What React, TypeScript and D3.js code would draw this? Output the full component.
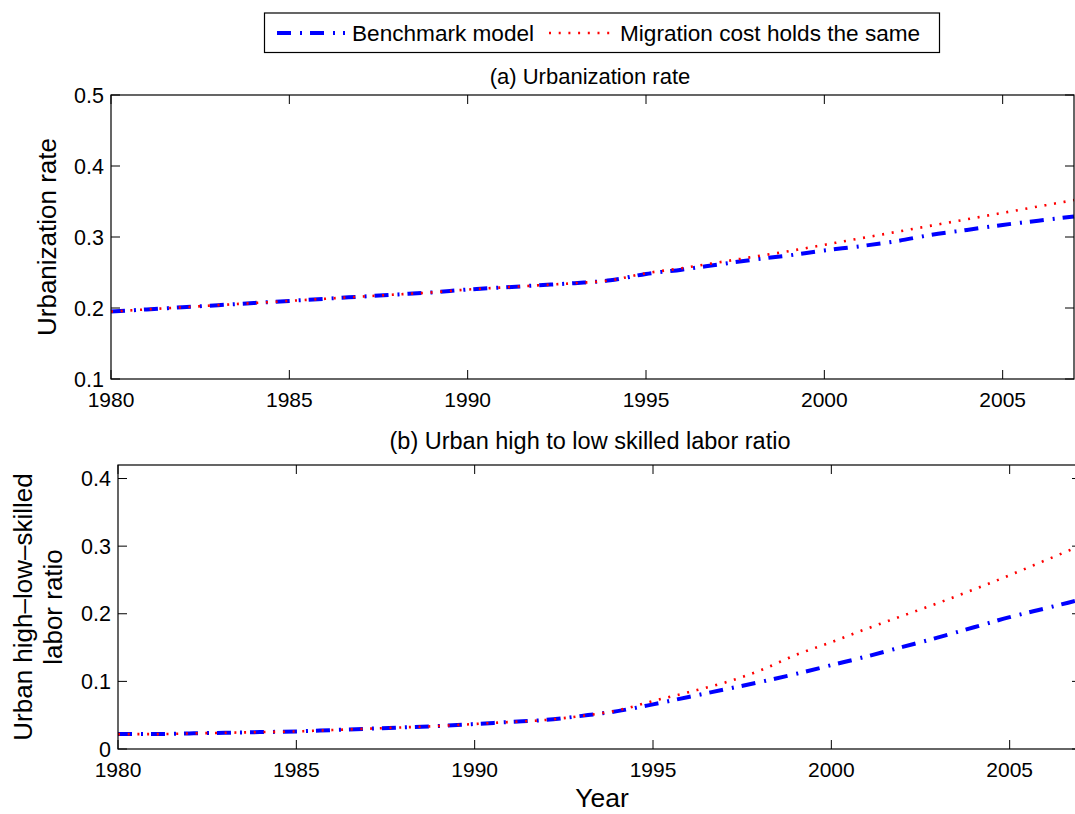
import React from "react";
import * as d3 from "d3";

// Simulation years and the two scenarios for each panel
const years = [
  1980, 1981, 1982, 1983, 1984, 1985, 1986, 1987, 1988, 1989,
  1990, 1991, 1992, 1993, 1994, 1995, 1996, 1997, 1998, 1999,
  2000, 2001, 2002, 2003, 2004, 2005, 2006, 2007,
];

const urbanBenchmark = [
  0.195, 0.198, 0.201, 0.204, 0.207, 0.21, 0.213, 0.216, 0.219, 0.222,
  0.226, 0.229, 0.232, 0.235, 0.239, 0.248, 0.254, 0.261, 0.268, 0.274,
  0.281, 0.287, 0.294, 0.303, 0.31, 0.317, 0.323, 0.329,
];
const urbanSameCost = [
  0.195, 0.198, 0.201, 0.204, 0.207, 0.21, 0.213, 0.216, 0.219, 0.222,
  0.226, 0.229, 0.232, 0.235, 0.239, 0.249, 0.256, 0.264, 0.272, 0.28,
  0.289, 0.298, 0.307, 0.316, 0.325, 0.334, 0.343, 0.352,
];

const ratioBenchmark = [
  0.022, 0.022, 0.023, 0.024, 0.025, 0.026, 0.028, 0.03, 0.032, 0.034,
  0.037, 0.04, 0.043, 0.049, 0.056, 0.066, 0.077, 0.088, 0.099, 0.111,
  0.124, 0.137, 0.151, 0.165, 0.18, 0.195, 0.208, 0.221,
];
const ratioSameCost = [
  0.022, 0.022, 0.023, 0.024, 0.025, 0.026, 0.028, 0.03, 0.032, 0.034,
  0.037, 0.04, 0.043, 0.049, 0.057, 0.071, 0.084, 0.098, 0.116, 0.139,
  0.158, 0.178, 0.197, 0.216, 0.236, 0.257, 0.279, 0.301,
];

const yearTicks = [1980, 1985, 1990, 1995, 2000, 2005];
const urbanTicks = [0.1, 0.2, 0.3, 0.4, 0.5];
const ratioTicks = [0, 0.1, 0.2, 0.3, 0.4];

const seriesNames = ["Benchmark model", "Migration cost holds the same"];

const FONT = "'Liberation Sans', Arial, Helvetica, sans-serif";
const BLUE = "#0000ff";
const RED = "#ff0000";
const BLUE_DASH = "14 9 2 8";
const RED_DASH = "2 7.7";
const TICK = 9;

type PanelProps = {
  left: number;
  right: number;
  top: number;
  bottom: number;
  yDomain: [number, number];
  yTicks: number[];
  benchmark: number[];
  sameCost: number[];
  title: string;
  titleY: number;
  titleSize: number;
  ylabel: string[];
  ylabelX: number;
};

function Panel(p: PanelProps) {
  const x = d3.scaleLinear().domain([1980, 2007]).range([p.left, p.right]);
  const y = d3.scaleLinear().domain(p.yDomain).range([p.bottom, p.top]);
  const line = (vals: number[]) =>
    d3
      .line<number>()
      .x((_, i) => x(years[i]))
      .y((v) => y(v))
      .curve(d3.curveMonotoneX)(vals) || "";
  const fmt = (v: number) => (v === 0 ? "0" : v.toFixed(1));
  const cy = (p.top + p.bottom) / 2;
  const lineGap = 30;
  const n = p.ylabel.length;

  return (
    <g>
      <path d={line(p.benchmark)} fill="none" stroke={BLUE} strokeWidth={4} strokeDasharray={BLUE_DASH} />
      <path d={line(p.sameCost)} fill="none" stroke={RED} strokeWidth={2.6} strokeDasharray={RED_DASH} />

      {/* frame */}
      <rect
        x={p.left}
        y={p.top}
        width={p.right - p.left}
        height={p.bottom - p.top}
        fill="none"
        stroke="#000"
        strokeWidth={1.2}
      />

      {/* x ticks on bottom and top edges */}
      {yearTicks.map((t) => (
        <g key={"x" + t}>
          <line x1={x(t)} x2={x(t)} y1={p.bottom} y2={p.bottom - TICK} stroke="#000" strokeWidth={1} />
          <line x1={x(t)} x2={x(t)} y1={p.top} y2={p.top + TICK} stroke="#000" strokeWidth={1} />
          <text
            x={x(t)}
            y={p.bottom + 28}
            textAnchor="middle"
            fontFamily={FONT}
            fontSize={21}
            fill="#000"
          >
            {t}
          </text>
        </g>
      ))}

      {/* y ticks on left and right edges */}
      {p.yTicks.map((t) => (
        <g key={"y" + t}>
          <line x1={p.left} x2={p.left + TICK} y1={y(t)} y2={y(t)} stroke="#000" strokeWidth={1} />
          <line x1={p.right} x2={p.right - TICK} y1={y(t)} y2={y(t)} stroke="#000" strokeWidth={1} />
          <text
            x={p.left - 7}
            y={y(t) + 7.5}
            textAnchor="end"
            fontFamily={FONT}
            fontSize={21.5}
            fill="#000"
          >
            {fmt(t)}
          </text>
        </g>
      ))}

      <text x={590} y={p.titleY} textAnchor="middle" fontFamily={FONT} fontSize={p.titleSize} fill="#000">
        {p.title}
      </text>

      {p.ylabel.map((s, i) => (
        <text
          key={s}
          transform={`translate(${p.ylabelX + (i - (n - 1) / 2) * lineGap + 9},${cy}) rotate(-90)`}
          textAnchor="middle"
          fontFamily={FONT}
          fontSize={26}
          fill="#000"
        >
          {s}
        </text>
      ))}
    </g>
  );
}

export default function App() {
  return (
    <svg
      width={1075}
      height={814}
      style={{ position: "absolute", left: 0, top: 0, background: "#fff" }}
    >
      <rect x={0} y={0} width={1075} height={814} fill="#fff" />

      <Panel
        left={111}
        right={1074}
        top={95}
        bottom={379}
        yDomain={[0.1, 0.5]}
        yTicks={urbanTicks}
        benchmark={urbanBenchmark}
        sameCost={urbanSameCost}
        title="(a) Urbanization rate"
        titleY={84}
        titleSize={22}
        ylabel={["Urbanization rate"]}
        ylabelX={47}
      />
      <Panel
        left={118}
        right={1081}
        top={465}
        bottom={749}
        yDomain={[0, 0.42]}
        yTicks={ratioTicks}
        benchmark={ratioBenchmark}
        sameCost={ratioSameCost}
        title="(b) Urban high to low skilled labor ratio"
        titleY={449}
        titleSize={23.5}
        ylabel={["Urban high\u2013low\u2013skilled", "labor ratio"]}
        ylabelX={38}
      />

      <text x={602} y={807} textAnchor="middle" fontFamily={FONT} fontSize={26.5} fill="#000">
        Year
      </text>

      {/* legend */}
      <g>
        <rect x={264.5} y={13} width={675} height={39.5} fill="#fff" stroke="#000" strokeWidth={1.2} />
        <line x1={277} x2={345} y1={33} y2={33} stroke={BLUE} strokeWidth={4} strokeDasharray={BLUE_DASH} />
        <text x={352} y={40.5} fontFamily={FONT} fontSize={22.6} fill="#000">
          {seriesNames[0]}
        </text>
        <line x1={549} x2={613} y1={33} y2={33} stroke={RED} strokeWidth={2.6} strokeDasharray={RED_DASH} />
        <text x={620} y={40.5} fontFamily={FONT} fontSize={22.6} fill="#000">
          {seriesNames[1]}
        </text>
      </g>
    </svg>
  );
}
